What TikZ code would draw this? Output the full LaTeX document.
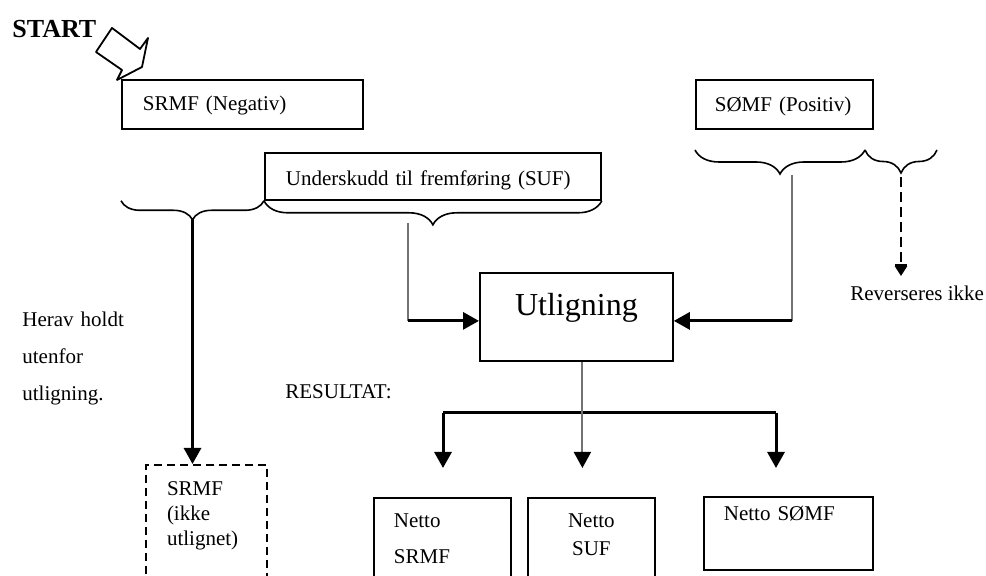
\documentclass[tikz,border=0pt]{standalone}
\usepackage{fontspec}
\setmainfont{Liberation Serif}
\usetikzlibrary{arrows.meta,decorations.pathreplacing}

\begin{document}
\begin{tikzpicture}[x=0.5pt, y=-0.5pt,
	every node/.style={font=\fontsize{10.5}{12.6}\selectfont, inner sep=0pt},
	>={Triangle[length=8pt,width=8.5pt]},
	box/.style={draw, line width=0.9pt, anchor=north west, align=left},
	brace/.style={decorate, decoration={brace, mirror, amplitude=#1}, line width=0.8pt},
	feed/.style={draw=black!55, line width=1pt},
	conn/.style={line width=1.5pt}]
	\useasboundingbox (0,0) rectangle (986,576);
	\clip (0,0) rectangle (986,576);

	\node[anchor=base west, font=\fontsize{13}{15}\selectfont\bfseries] (start) at (12,38) {START};
	\draw[line width=0.9pt, line join=round, fill=white] (112,28) -- (140,49) -- (148,38) -- (142,67) -- (117,80) -- (122,70) -- (96,52) -- cycle;

	\node[box, text width=99.5pt, inner xsep=10.5pt, text height=15.5pt, text depth=9pt] (srmf) at (121,79) {SRMF (Negativ)};
	\node[box, text width=69.5pt, inner xsep=9.5pt, text height=16pt, text depth=8.5pt] (somf) at (695,79) {SØMF (Positiv)};
	\node[box, text width=147pt, inner xsep=10.5pt, text height=16.5pt, text depth=7pt] (suf) at (264,152) {Underskudd til fremføring (SUF)};
	\node[box, minimum width=96.5pt, align=center, font=\fontsize{16}{19}\selectfont, text height=21.5pt, text depth=22.5pt] (utl) at (479,272) {Utligning};

	\node[box, dash pattern=on 4pt off 2.5pt, line width=1pt, text width=39.5pt, inner xsep=10.5pt, text height=15.5pt, text depth=60pt, font=\fontsize{10.5}{12.5}\selectfont] (ikke) at (145,464) {SRMF\\(ikke\\utlignet)};
	\node[box, text width=48.5pt, inner xsep=10pt, text height=15pt, text depth=45pt, font=\fontsize{10.5}{18}\selectfont] (nsrmf) at (373,497) {Netto\\SRMF};
	\node[box, text width=63.5pt, align=center, text height=15pt, text depth=45pt, font=\fontsize{10.5}{14}\selectfont] (nsuf) at (527,497) {Netto\\SUF};
	\node[box, text width=64.5pt, inner xsep=10pt, text height=12pt, text depth=24.5pt] (nsomf) at (703,496) {Netto SØMF};

	\node[anchor=base west, text width=60pt, align=left, font=\fontsize{10.5}{18.5}\selectfont] (herav) at (22,327) {Herav holdt\\utenfor\\utligning.};
	\node[anchor=base west] (res) at (285,399) {RESULTAT:};
	\node[anchor=base west] (rev) at (850,301) {Reverseres ikke};

	\coordinate (s1) at (695,150);
	\coordinate (s2) at (865,150);
	\coordinate (s3) at (937,150);
	\draw[brace=9.5pt] (srmf.south west |- suf.south west) -- (suf.south west);
	\draw[brace=12pt] (suf.south west) -- (suf.south east);
	\draw[brace=12pt] (s1) -- (s2);
	\draw[brace=11.5pt] (s2) -- (s3);

	\coordinate (t1) at (192.5,218);
	\coordinate (t2) at (408,223);
	\coordinate (t3) at (792,175);
	\coordinate (t4) at (901,177);
	\coordinate (inL) at ([yshift=-2pt]utl.west);
	\coordinate (inR) at ([yshift=-2pt]utl.east);
	\draw[->, conn] (t1) -- (t1 |- ikke.north);
	\draw[feed] (t2) -- (t2 |- inL);
	\draw[->, conn] (t2 |- inL) -- (inL);
	\draw[feed] (t3) -- (t3 |- inR);
	\draw[->, conn] (t3 |- inR) -- (inR);
	\draw[line width=1.2pt, dash pattern=on 5pt off 2.5pt, -{Bar[width=6pt] Triangle[length=5pt,width=6pt]}, shorten >=5pt] (t4) -- (t4 |- rev.north);

	\coordinate (fan) at ([xshift=3pt]utl.south);
	\coordinate (fanL) at (443,413);
	\coordinate (fanR) at (776,413);
	\draw[conn] (fanL) -- (fanR);
	\draw[feed, -{Triangle[length=8pt,width=8.5pt,color=black]}, shorten >=14.5pt] (fan) -- (fan |- nsuf.north);
	\draw[->, conn, shorten >=14.5pt] (fanL) -- (fanL |- nsrmf.north);
	\draw[->, conn, shorten >=14pt] (fanR) -- (fanR |- nsomf.north);
\end{tikzpicture}
\end{document}
